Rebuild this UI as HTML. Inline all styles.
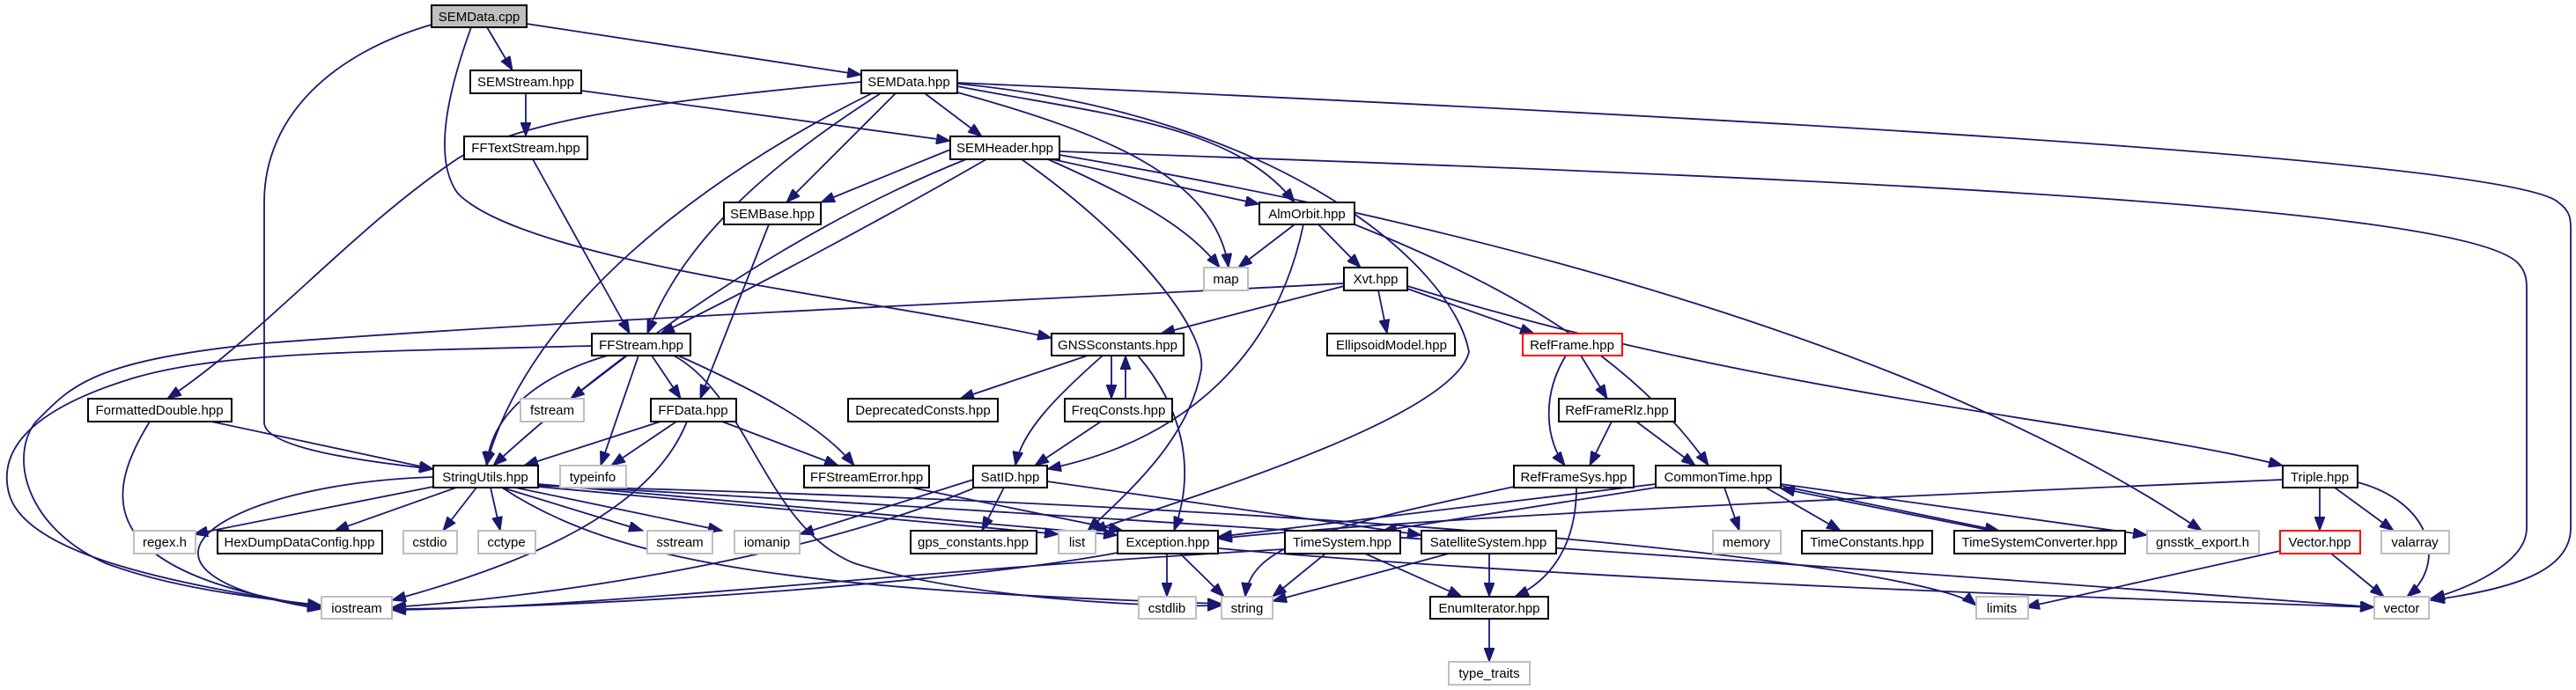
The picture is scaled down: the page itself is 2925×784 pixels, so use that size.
<!DOCTYPE html>
<html><head><meta charset="utf-8"><style>
html,body{margin:0;padding:0;background:#fff;}
svg{display:block;}
text{font-family:"Liberation Sans",sans-serif;font-size:15px;text-anchor:middle;fill:#000;}
.e{fill:none;stroke:#191970;stroke-width:1.8;marker-end:url(#a);}
.n{fill:#fff;stroke:#000;stroke-width:2;}
.g{fill:#fff;stroke:#bfbfbf;stroke-width:2;}
.r{fill:#fff;stroke:#ff0000;stroke-width:2;}
</style></head><body>
<svg width="2925" height="784" viewBox="0 0 2925 784" xmlns="http://www.w3.org/2000/svg">
<defs><marker id="a" markerUnits="userSpaceOnUse" markerWidth="18" markerHeight="12" refX="16" refY="6" orient="auto"><path d="M0,0 L16,6 L0,12 z" fill="#191970" stroke="#191970"/></marker></defs>
<g>
<path class="e" d="M553 31 L582 80"/>
<path class="e" d="M598 27 L978 85"/>
<path class="e" d="M490 28 C380 60 300 130 300 230 L300 480 C300 510 420 525 492 533"/>
<path class="e" d="M535 31 C510 100 490 180 520 220 C600 300 1000 340 1194 384"/>
<path class="e" d="M597 106 L597 155"/>
<path class="e" d="M660 103 L1079 160"/>
<path class="e" d="M605 181 L715 379"/>
<path class="e" d="M978 93 C800 110 600 130 520 180 C400 260 300 380 190 453"/>
<path class="e" d="M1050 106 L1115 155"/>
<path class="e" d="M1017 106 L893 230"/>
<path class="e" d="M1000 106 C900 170 780 260 735 379"/>
<path class="e" d="M990 106 C800 200 600 350 552 529"/>
<path class="e" d="M1087 105 C1250 150 1380 200 1395 304"/>
<path class="e" d="M1087 98 C1250 130 1400 140 1470 230"/>
<path class="e" d="M1087 95 C1450 130 1650 300 1668 400 C1650 470 1400 550 1240 603"/>
<path class="e" d="M1087 94 C1900 130 2850 180 2905 230 C2919 240 2919 250 2919 260 L2919 600 C2919 650 2850 670 2760 682"/>
<path class="e" d="M1079 170 L932 230"/>
<path class="e" d="M1195 181 L1430 232"/>
<path class="e" d="M1190 181 C1300 230 1350 260 1385 304"/>
<path class="e" d="M1120 181 C1000 250 850 330 750 379"/>
<path class="e" d="M1097 181 C900 260 700 400 560 529"/>
<path class="e" d="M1160 181 C1300 280 1370 380 1364 420 C1350 500 1280 560 1235 603"/>
<path class="e" d="M1203 172 C2000 200 2800 230 2860 300 C2869 310 2869 320 2869 330 L2869 600 C2869 640 2800 670 2760 680"/>
<path class="e" d="M1203 176 C1700 260 2200 400 2500 603"/>
<path class="e" d="M1470 255 L1406 304"/>
<path class="e" d="M1497 255 L1545 304"/>
<path class="e" d="M1480 255 C1450 400 1350 500 1189 533"/>
<path class="e" d="M1538 255 C1700 320 1850 400 1940 529"/>
<path class="e" d="M1526 325 L1318 379"/>
<path class="e" d="M1565 330 L1575 379"/>
<path class="e" d="M1598 328 L1742 379"/>
<path class="e" d="M1598 325 C2000 450 2400 480 2592 529"/>
<path class="e" d="M1526 322 C1200 340 700 360 300 390 C100 410 80 440 40 480 C10 520 30 600 120 640 C200 670 300 680 365 688"/>
<path class="e" d="M672 393 C400 400 250 400 150 430 C20 470 0 520 10 560 C30 640 250 670 365 690"/>
<path class="e" d="M1235 404 L1090 453"/>
<path class="e" d="M1262 404 L1262 453"/>
<path class="e" d="M1278 453 L1278 404"/>
<path class="e" d="M1252 404 C1200 450 1160 490 1153 529"/>
<path class="e" d="M1292 404 C1340 460 1360 530 1333 603"/>
<path class="e" d="M1250 479 L1175 529"/>
<path class="e" d="M1795 404 L1825 453"/>
<path class="e" d="M1778 404 C1750 450 1755 500 1777 529"/>
<path class="e" d="M1830 479 L1805 529"/>
<path class="e" d="M1858 479 L1925 529"/>
<path class="e" d="M712 404 L648 453"/>
<path class="e" d="M725 404 L682 529"/>
<path class="e" d="M740 404 L773 453"/>
<path class="e" d="M690 404 C600 430 555 480 553 529"/>
<path class="e" d="M770 404 C850 440 930 480 970 529"/>
<path class="e" d="M765 404 C850 450 870 600 970 640 C1100 680 1300 690 1387 688"/>
<path class="e" d="M240 479 L492 533"/>
<path class="e" d="M170 479 C120 560 100 650 365 690"/>
<path class="e" d="M750 479 L595 529"/>
<path class="e" d="M768 479 L694 529"/>
<path class="e" d="M820 479 L952 529"/>
<path class="e" d="M780 479 C740 580 600 640 445 682"/>
<path class="e" d="M873 255 L795 453"/>
<path class="e" d="M492 553 L220 607"/>
<path class="e" d="M518 554 L380 603"/>
<path class="e" d="M541 554 L503 603"/>
<path class="e" d="M557 554 L568 603"/>
<path class="e" d="M570 554 L730 603"/>
<path class="e" d="M585 554 L820 603"/>
<path class="e" d="M492 542 C250 550 100 650 365 692"/>
<path class="e" d="M570 554 C700 640 900 670 1387 686"/>
<path class="e" d="M611 553 L1202 607"/>
<path class="e" d="M611 550 L1269 608"/>
<path class="e" d="M611 552 C1700 580 2200 650 2244 688"/>
<path class="e" d="M611 551 C1500 600 2300 660 2696 690"/>
<path class="e" d="M1140 554 L1115 603"/>
<path class="e" d="M1105 545 L908 607"/>
<path class="e" d="M1105 555 C900 640 600 680 445 690"/>
<path class="e" d="M1189 547 L1614 608"/>
<path class="e" d="M1035 554 L1275 603"/>
<path class="e" d="M1719 553 C1500 600 1420 620 1414 678"/>
<path class="e" d="M1790 554 C1790 620 1760 660 1720 678"/>
<path class="e" d="M1880 550 L1383 610"/>
<path class="e" d="M1880 554 L1570 603"/>
<path class="e" d="M1958 554 L1975 603"/>
<path class="e" d="M2005 554 L2090 603"/>
<path class="e" d="M2022 552 L2270 603"/>
<path class="e" d="M2262 603 L2022 555"/>
<path class="e" d="M2022 550 L2438 608"/>
<path class="e" d="M2592 545 C2000 570 1600 590 1383 612"/>
<path class="e" d="M2634 554 L2634 603"/>
<path class="e" d="M2651 554 L2718 603"/>
<path class="e" d="M2677 548 C2760 570 2780 640 2733 678"/>
<path class="e" d="M2589 626 L2300 690"/>
<path class="e" d="M2647 629 L2707 678"/>
<path class="e" d="M1325 629 L1325 678"/>
<path class="e" d="M1340 629 L1390 678"/>
<path class="e" d="M1269 628 C1100 660 700 690 445 692"/>
<path class="e" d="M1383 623 C1800 660 2400 680 2696 690"/>
<path class="e" d="M1505 629 L1445 678"/>
<path class="e" d="M1550 629 L1660 678"/>
<path class="e" d="M1459 624 C1000 650 700 690 445 693"/>
<path class="e" d="M1645 629 L1445 683"/>
<path class="e" d="M1691 629 L1691 678"/>
<path class="e" d="M1691 703 L1691 752"/>
</g>
<g>
<rect x="490" y="6" width="108" height="25" fill="#bfbfbf" stroke="#000" stroke-width="2"/><text x="544" y="24">SEMData.cpp</text>
<rect class="n" x="534" y="80" width="126" height="26"/><text x="597" y="98">SEMStream.hpp</text>
<rect class="n" x="978" y="80" width="109" height="26"/><text x="1032" y="98">SEMData.hpp</text>
<rect class="n" x="527" y="155" width="140" height="26"/><text x="597" y="173">FFTextStream.hpp</text>
<rect class="n" x="1079" y="155" width="124" height="26"/><text x="1141" y="173">SEMHeader.hpp</text>
<rect class="n" x="822" y="230" width="110" height="25"/><text x="877" y="248">SEMBase.hpp</text>
<rect class="n" x="1430" y="230" width="108" height="25"/><text x="1484" y="248">AlmOrbit.hpp</text>
<rect class="g" x="1367" y="304" width="50" height="26"/><text x="1392" y="322">map</text>
<rect class="n" x="1526" y="304" width="72" height="26"/><text x="1562" y="322">Xvt.hpp</text>
<rect class="n" x="672" y="379" width="112" height="25"/><text x="728" y="397">FFStream.hpp</text>
<rect class="n" x="1194" y="379" width="150" height="25"/><text x="1269" y="397">GNSSconstants.hpp</text>
<rect class="n" x="1507" y="379" width="145" height="25"/><text x="1580" y="397">EllipsoidModel.hpp</text>
<rect class="r" x="1729" y="379" width="113" height="25"/><text x="1785" y="397">RefFrame.hpp</text>
<rect class="n" x="100" y="453" width="163" height="26"/><text x="181" y="471">FormattedDouble.hpp</text>
<rect class="g" x="591" y="453" width="72" height="26"/><text x="627" y="471">fstream</text>
<rect class="n" x="739" y="453" width="97" height="26"/><text x="787" y="471">FFData.hpp</text>
<rect class="n" x="963" y="453" width="170" height="26"/><text x="1048" y="471">DeprecatedConsts.hpp</text>
<rect class="n" x="1209" y="453" width="122" height="26"/><text x="1270" y="471">FreqConsts.hpp</text>
<rect class="n" x="1770" y="453" width="132" height="26"/><text x="1836" y="471">RefFrameRlz.hpp</text>
<rect class="n" x="492" y="529" width="119" height="25"/><text x="551" y="547">StringUtils.hpp</text>
<rect class="g" x="636" y="529" width="75" height="25"/><text x="673" y="547">typeinfo</text>
<rect class="n" x="913" y="529" width="142" height="25"/><text x="984" y="547">FFStreamError.hpp</text>
<rect class="n" x="1105" y="529" width="84" height="25"/><text x="1147" y="547">SatID.hpp</text>
<rect class="n" x="1719" y="529" width="136" height="25"/><text x="1787" y="547">RefFrameSys.hpp</text>
<rect class="n" x="1880" y="529" width="142" height="25"/><text x="1951" y="547">CommonTime.hpp</text>
<rect class="n" x="2592" y="529" width="85" height="25"/><text x="2634" y="547">Triple.hpp</text>
<rect class="g" x="152" y="603" width="70" height="26"/><text x="187" y="621">regex.h</text>
<rect class="n" x="247" y="603" width="187" height="26"/><text x="340" y="621">HexDumpDataConfig.hpp</text>
<rect class="g" x="458" y="603" width="61" height="26"/><text x="488" y="621">cstdio</text>
<rect class="g" x="543" y="603" width="65" height="26"/><text x="575" y="621">cctype</text>
<rect class="g" x="735" y="603" width="74" height="26"/><text x="772" y="621">sstream</text>
<rect class="g" x="834" y="603" width="74" height="26"/><text x="871" y="621">iomanip</text>
<rect class="n" x="1034" y="603" width="143" height="26"/><text x="1105" y="621">gps_constants.hpp</text>
<rect class="g" x="1202" y="603" width="42" height="26"/><text x="1223" y="621">list</text>
<rect class="n" x="1269" y="603" width="114" height="26"/><text x="1326" y="621">Exception.hpp</text>
<rect class="n" x="1459" y="603" width="131" height="26"/><text x="1524" y="621">TimeSystem.hpp</text>
<rect class="n" x="1614" y="603" width="153" height="26"/><text x="1690" y="621">SatelliteSystem.hpp</text>
<rect class="g" x="1945" y="603" width="77" height="26"/><text x="1983" y="621">memory</text>
<rect class="n" x="2046" y="603" width="148" height="26"/><text x="2120" y="621">TimeConstants.hpp</text>
<rect class="n" x="2219" y="603" width="194" height="26"/><text x="2316" y="621">TimeSystemConverter.hpp</text>
<rect class="g" x="2438" y="603" width="127" height="26"/><text x="2501" y="621">gnsstk_export.h</text>
<rect class="r" x="2589" y="603" width="91" height="26"/><text x="2634" y="621">Vector.hpp</text>
<rect class="g" x="2704" y="603" width="77" height="26"/><text x="2742" y="621">valarray</text>
<rect class="g" x="365" y="678" width="80" height="25"/><text x="405" y="696">iostream</text>
<rect class="g" x="1293" y="678" width="65" height="25"/><text x="1325" y="696">cstdlib</text>
<rect class="g" x="1387" y="678" width="58" height="25"/><text x="1416" y="696">string</text>
<rect class="n" x="1624" y="678" width="134" height="25"/><text x="1691" y="696">EnumIterator.hpp</text>
<rect class="g" x="2244" y="678" width="59" height="25"/><text x="2273" y="696">limits</text>
<rect class="g" x="2696" y="678" width="62" height="25"/><text x="2727" y="696">vector</text>
<rect class="g" x="1645" y="752" width="92" height="26"/><text x="1691" y="770">type_traits</text>
</g>
</svg>
</body></html>
